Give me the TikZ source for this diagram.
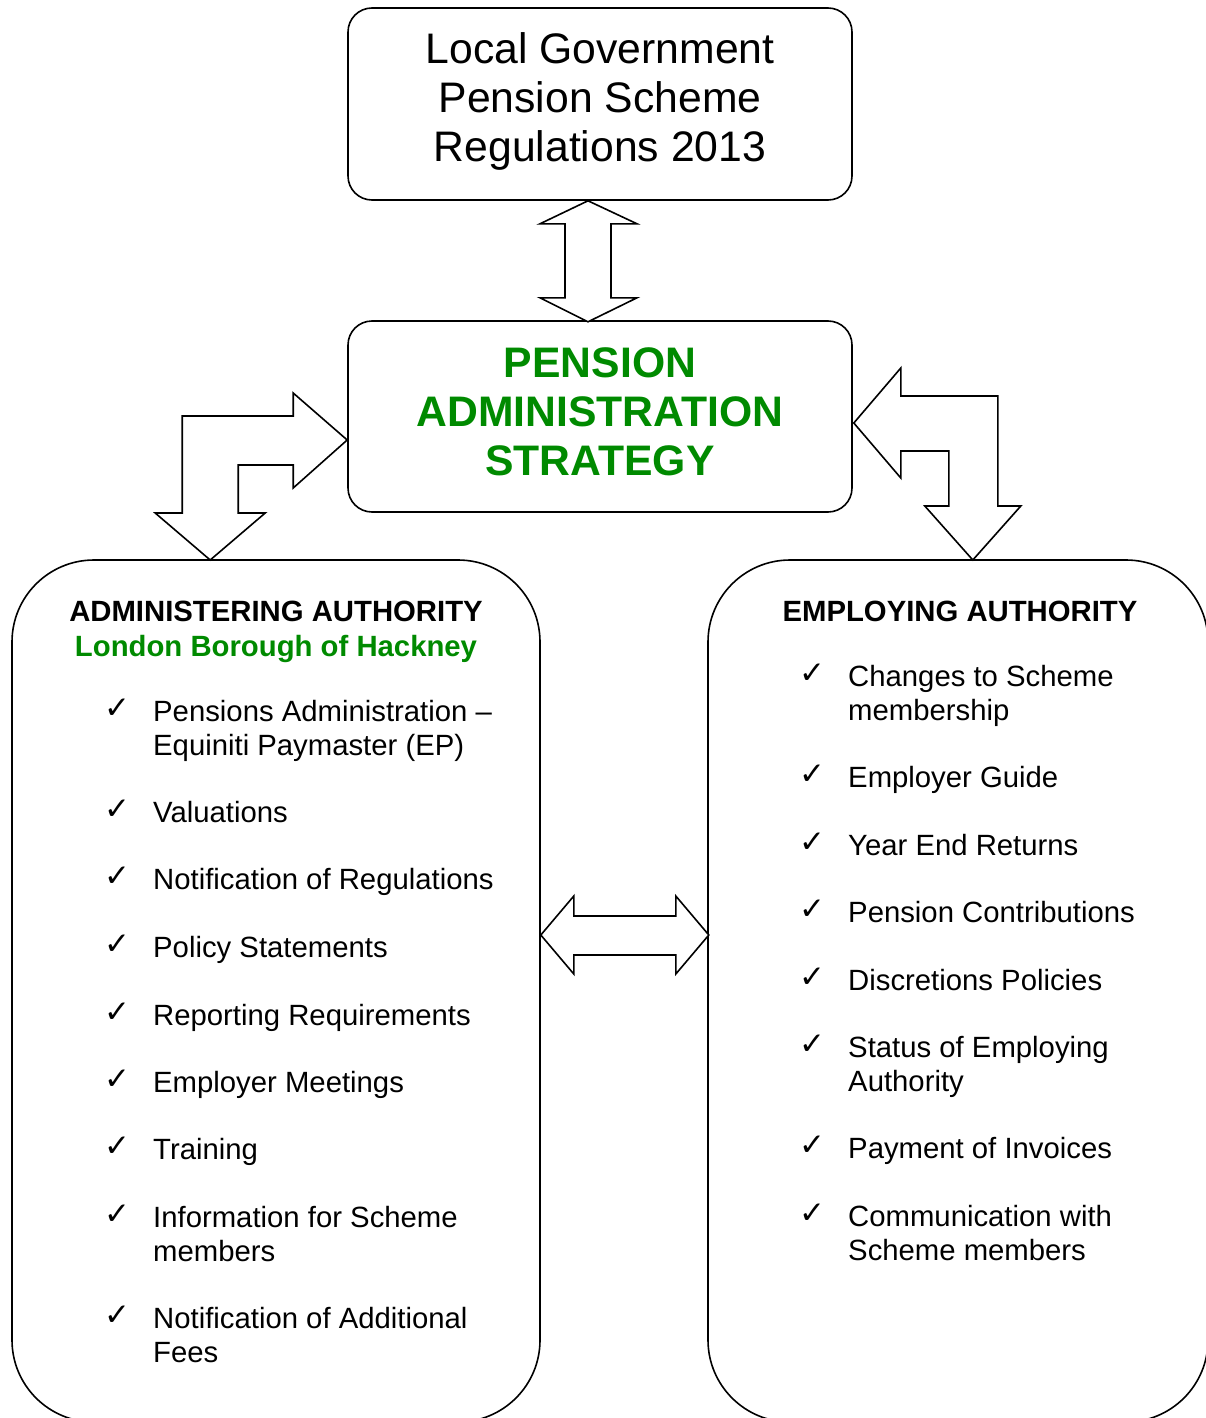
\documentclass[tikz,border=0pt]{standalone}
\usepackage{fontspec}
\setmainfont{Liberation Sans}
\newfontfamily\ticksymbol{DejaVu Sans}
\usetikzlibrary{calc}
\definecolor{pasgreen}{HTML}{008A00}
\tikzset{
  roundbox/.style={draw=black,line width=1.6pt,rounded corners=24pt,align=center,inner sep=0pt},
  bigbox/.style={draw=black,line width=1.6pt,rounded corners=82pt,inner sep=0pt},
  blockarrow/.style={draw=black,line width=1.6pt,fill=white,line join=miter},
  headline/.style={anchor=base,inner sep=0pt,font=\fontsize{29.3}{34}\selectfont\bfseries},
  listitem/.style={anchor=base west,align=left,inner sep=0pt,font=\fontsize{29.3}{34}\selectfont},
  tick/.style={anchor=base,inner sep=0pt,yshift=3pt,font=\ticksymbol\fontsize{31}{31}\selectfont}
}

\begin{document}
\begin{tikzpicture}[x=1pt,y=-1pt]
  \useasboundingbox (0,0) rectangle (1206,1418);
  \clip (0,0) rectangle (1206,1418);

  % boxes
  \node[roundbox,minimum width=504pt,minimum height=192pt,text depth=13pt,
    font=\fontsize{42.7}{49}\selectfont] (lgps) at (600,104)
    {Local Government\\Pension Scheme\\Regulations 2013};
  \node[roundbox,minimum width=504pt,minimum height=191pt,text depth=10pt,text=pasgreen,
    font=\fontsize{42.7}{49}\selectfont\bfseries] (pas) at (600,416.5)
    {PENSION\\ADMINISTRATION\\STRATEGY};
  \node[bigbox,minimum width=528pt,minimum height=862pt] (adm) at (276,991) {};
  \node[bigbox,minimum width=500pt,minimum height=862pt] (emp) at (958,991) {};

  % block arrows
  \draw[blockarrow] ($(lgps.south)+(-12,0)$) -- ++(49,23) -- ++(-26,0) -- ++(0,74)
    -- ++(26,0) -- ++(-49,24) -- ++(-48,-24) -- ++(25,0) -- ++(0,-74) -- ++(-25,0) -- cycle;
  \draw[blockarrow] ($(pas.west)+(0,23.5)$) -- ++(-54,-47) -- ++(0,23) -- ++(-111,0)
    -- ++(0,97) -- ++(-27,0) -- ++(55,47) -- ++(55,-47) -- ++(-27,0) -- ++(0,-48)
    -- ++(55,0) -- ++(0,23) -- cycle;
  \draw[blockarrow] ($(pas.east)+(1,6.5)$) -- ++(47,-55) -- ++(0,28) -- ++(97,0)
    -- ++(0,110) -- ++(23,0) -- ++(-48,54) -- ++(-48,-54) -- ++(24,0) -- ++(0,-55)
    -- ++(-48,0) -- ++(0,27) -- cycle;
  \draw[blockarrow] ($(adm.east)+(0,-56)$) -- ++(33,-39) -- ++(0,20) -- ++(102,0)
    -- ++(0,-20) -- ++(33,39) -- ++(-33,39) -- ++(0,-19) -- ++(-102,0) -- ++(0,19) -- cycle;

  % administering authority (tick baseline / last text baseline / text)
  \node[headline] (admhead) at (276,621.5) {ADMINISTERING AUTHORITY};
  \node[headline,text=pasgreen] (admname) at (276,656.5) {London Borough of Hackney};
  \foreach \y/\ly/\txt [count=\i] in {721/755/{Pensions Administration --\\Equiniti Paymaster (EP)},
      822/822/Valuations, 889/889/Notification of Regulations, 957/957/Policy Statements,
      1025/1025/Reporting Requirements, 1092/1092/Employer Meetings, 1159/1159/Training,
      1227/1261/{Information for Scheme\\members}, 1328/1362/{Notification of Additional\\Fees}} {
    \node[tick] (admtick\i) at (117,\y) {✓};
    \node[listitem] (admitem\i) at (153,\ly) {\txt};
  }

  % employing authority
  \node[headline] (emphead) at (960,621.5) {EMPLOYING AUTHORITY};
  \foreach \y/\ly/\txt [count=\i] in {686/720/{Changes to Scheme\\membership},
      787/787/Employer Guide, 855/855/Year End Returns, 922/922/Pension Contributions,
      990/990/Discretions Policies, 1057/1091/{Status of Employing\\Authority},
      1158/1158/Payment of Invoices, 1226/1260/{Communication with\\Scheme members}} {
    \node[tick] (emptick\i) at (812,\y) {✓};
    \node[listitem] (empitem\i) at (848,\ly) {\txt};
  }
\end{tikzpicture}
\end{document}
